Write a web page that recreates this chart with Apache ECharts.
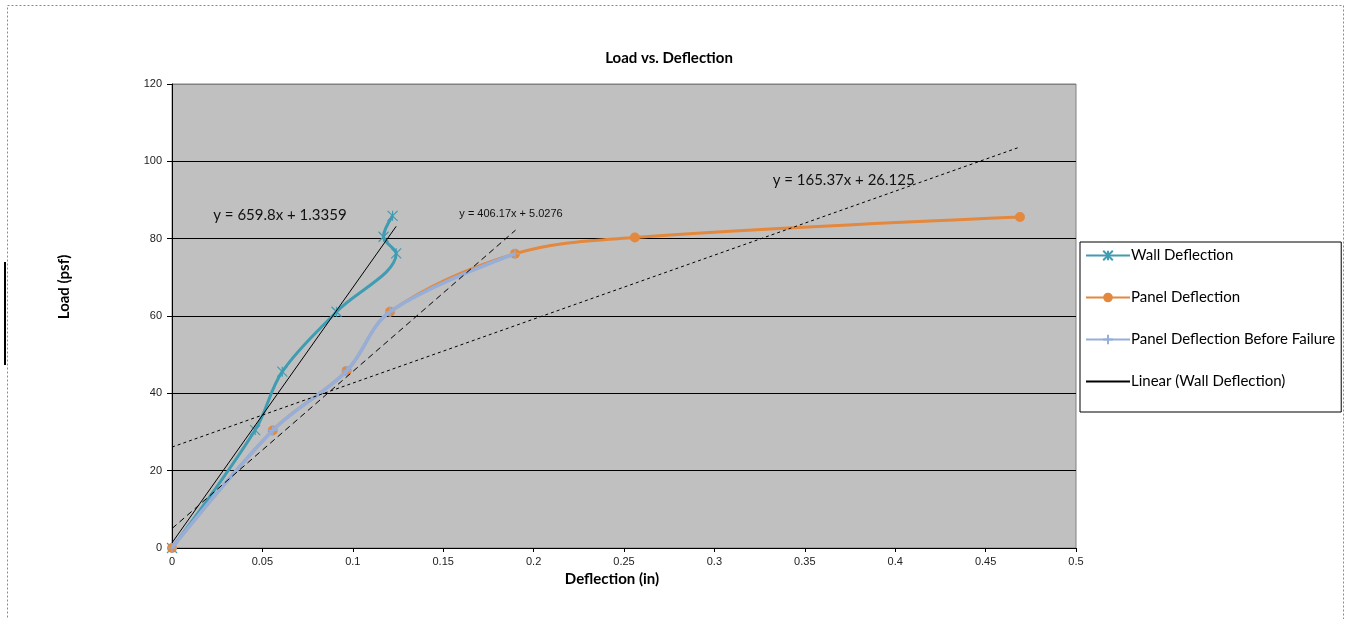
<!DOCTYPE html>
<html>
<head>
<meta charset="utf-8">
<script src="https://cdn.jsdelivr.net/npm/echarts@6/dist/echarts.min.js"></script>
<style>
  html, body { margin: 0; padding: 0; background: #fff; }
  #chart { width: 1349px; height: 619px; }
</style>
</head>
<body>
<div id="chart"></div>
<script>
// measured values (deflection in inches, load in psf)
const wallDefl = [0, 0.046, 0.061, 0.091, 0.124, 0.117, 0.122];
const wallLoad = [0, 30.5, 45.6, 61.1, 76.2, 80.5, 85.9];
const panelDefl = [0, 0.0557, 0.0966, 0.1206, 0.1897, 0.256, 0.469];
const panelLoad = [0, 30.4, 45.8, 61.1, 76.1, 80.3, 85.6];
const beforeDefl = [0, 0.0557, 0.0966, 0.1206, 0.1897];
const beforeLoad = [0, 30.4, 45.8, 61.1, 76.1];

// trendline end points as drawn
const trendWall = [[0, 1.34], [0.124, 83.2]];
const trendBefore = [[0, 5.03], [0.19, 82.2]];
const trendPanel = [[0, 26.1], [0.469, 103.7]];

const eqText = ['y = 659.8x + 1.3359', 'y = 406.17x + 5.0276', 'y = 165.37x + 26.125'];
const eqAt = [[0.0597, 86.1], [0.1875, 86.4], [0.3715, 95.2]];

const zip = (xs, ys) => xs.map((x, i) => [x, ys[i]]);

const teal = '#3f9cb2';
const orange = '#e3883d';
const lightBlue = '#96aed8';
const font = 'Lato, "Noto Sans", sans-serif';
const arial = '"Liberation Sans", Arial, sans-serif';

const myChart = echarts.init(document.getElementById('chart'));

function eqMark(i, size, family) {
    return {
        symbol: 'circle',
        symbolSize: 0,
        silent: true,
        label: {
            show: true,
            position: 'inside',
            formatter: eqText[i],
            color: '#111',
            fontFamily: family,
            fontSize: size
        },
        data: [{ coord: eqAt[i] }]
    };
}

const option = {
    animation: false,
    title: {
        text: 'Load vs. Deflection',
        left: 664,
        textAlign: 'center',
        top: 46,
        textStyle: { fontFamily: font, fontSize: 15, fontWeight: 'bold', color: '#000' }
    },
    legend: {
        orient: 'vertical',
        left: 1080,
        top: 242,
        padding: [6, 6, 23, 5],
        itemGap: 27,
        itemWidth: 44,
        itemHeight: 12,
        backgroundColor: '#fff',
        borderColor: '#000',
        borderWidth: 1,
        selectedMode: false,
        textStyle: { fontFamily: font, fontSize: 15, color: '#000', padding: [0, 0, 0, -4] },
        data: [
            'Wall Deflection',
            'Panel Deflection',
            'Panel Deflection Before Failure',
            { name: 'Linear (Wall Deflection)', itemStyle: { opacity: 0 } }
        ]
    },
    grid: {
        left: 172,
        right: 273,
        top: 84,
        bottom: 71,
        show: true,
        backgroundColor: '#c0c0c0',
        borderColor: '#808080',
        borderWidth: 1
    },
    xAxis: {
        type: 'value',
        min: 0,
        max: 0.5,
        interval: 0.05,
        name: 'Deflection (in)',
        nameLocation: 'middle',
        nameGap: 22,
        nameTextStyle: { fontFamily: font, fontSize: 15, fontWeight: 'bold', color: '#000', padding: [0, 24, 0, 0] },
        axisLine: { lineStyle: { color: '#000', width: 1 } },
        axisTick: { show: true, length: 4, lineStyle: { color: '#000' } },
        axisLabel: { color: '#222', fontFamily: arial, fontSize: 11, margin: 8 },
        splitLine: { show: false }
    },
    yAxis: {
        type: 'value',
        min: 0,
        max: 120,
        interval: 20,
        name: 'Load (psf)',
        nameLocation: 'middle',
        nameGap: 100,
        nameTextStyle: { fontFamily: font, fontSize: 15, fontWeight: 'bold', color: '#000', padding: [0, 0, 0, 58] },
        axisLine: { show: true, lineStyle: { color: '#000', width: 1 } },
        axisTick: { show: true, length: 5, lineStyle: { color: '#000' } },
        axisLabel: { color: '#222', fontFamily: arial, fontSize: 11, margin: 10 },
        splitLine: {
            show: true,
            lineStyle: { color: ['#000', '#000', '#000', '#000', '#000', '#000', '#808080'], width: 1 }
        }
    },
    series: [
        {
            name: 'Wall Deflection',
            type: 'line',
            smooth: 0.35,
            data: zip(wallDefl, wallLoad),
            color: teal,
            lineStyle: { width: 3, color: teal },
            symbol: 'path://M0,0L10,10M10,0L0,10M5,0L5,10',
            symbolSize: 10,
            itemStyle: { color: 'none', borderColor: teal, borderWidth: 1.2 },
            z: 3
        },
        {
            name: 'Panel Deflection',
            type: 'line',
            smooth: 0.35,
            data: zip(panelDefl, panelLoad),
            color: orange,
            lineStyle: { width: 3, color: orange },
            symbol: 'circle',
            symbolSize: 10,
            itemStyle: { color: orange, borderWidth: 0 },
            z: 3
        },
        {
            name: 'Panel Deflection Before Failure',
            type: 'line',
            smooth: 0.35,
            data: zip(beforeDefl, beforeLoad),
            color: lightBlue,
            lineStyle: { width: 3.5, color: lightBlue },
            symbol: 'path://M5,0L5,10M0,5L10,5',
            symbolSize: 10,
            itemStyle: { color: 'none', borderColor: lightBlue, borderWidth: 1.2 },
            z: 4
        },
        {
            name: 'Linear (Wall Deflection)',
            type: 'line',
            data: trendWall,
            color: '#000',
            lineStyle: { width: 1, color: '#000' },
            symbol: 'none',
            markPoint: eqMark(0, 15, font),
            z: 5
        },
        {
            name: 'Linear (Panel Deflection Before Failure)',
            type: 'line',
            data: trendBefore,
            lineStyle: { width: 1, color: '#000', type: [6, 4] },
            symbol: 'none',
            markPoint: eqMark(1, 11, arial),
            z: 5
        },
        {
            name: 'Linear (Panel Deflection)',
            type: 'line',
            data: trendPanel,
            lineStyle: { width: 1, color: '#000', type: [3, 3] },
            symbol: 'none',
            markPoint: eqMark(2, 15, font),
            z: 5
        }
    ],
    graphic: [
        {
            type: 'rect',
            left: 5,
            top: 3,
            shape: { width: 1336, height: 640 },
            style: { fill: 'none', stroke: '#8a8a8a', lineWidth: 1, lineDash: [2, 2] },
            silent: true
        },
        {
            type: 'line',
            shape: { x1: 5, y1: 262, x2: 5, y2: 365 },
            style: { stroke: '#000', lineWidth: 2 },
            silent: true
        }
    ]
};

myChart.setOption(option);

window.onresize = function () {
    myChart.resize();
};
</script>
</body>
</html>
